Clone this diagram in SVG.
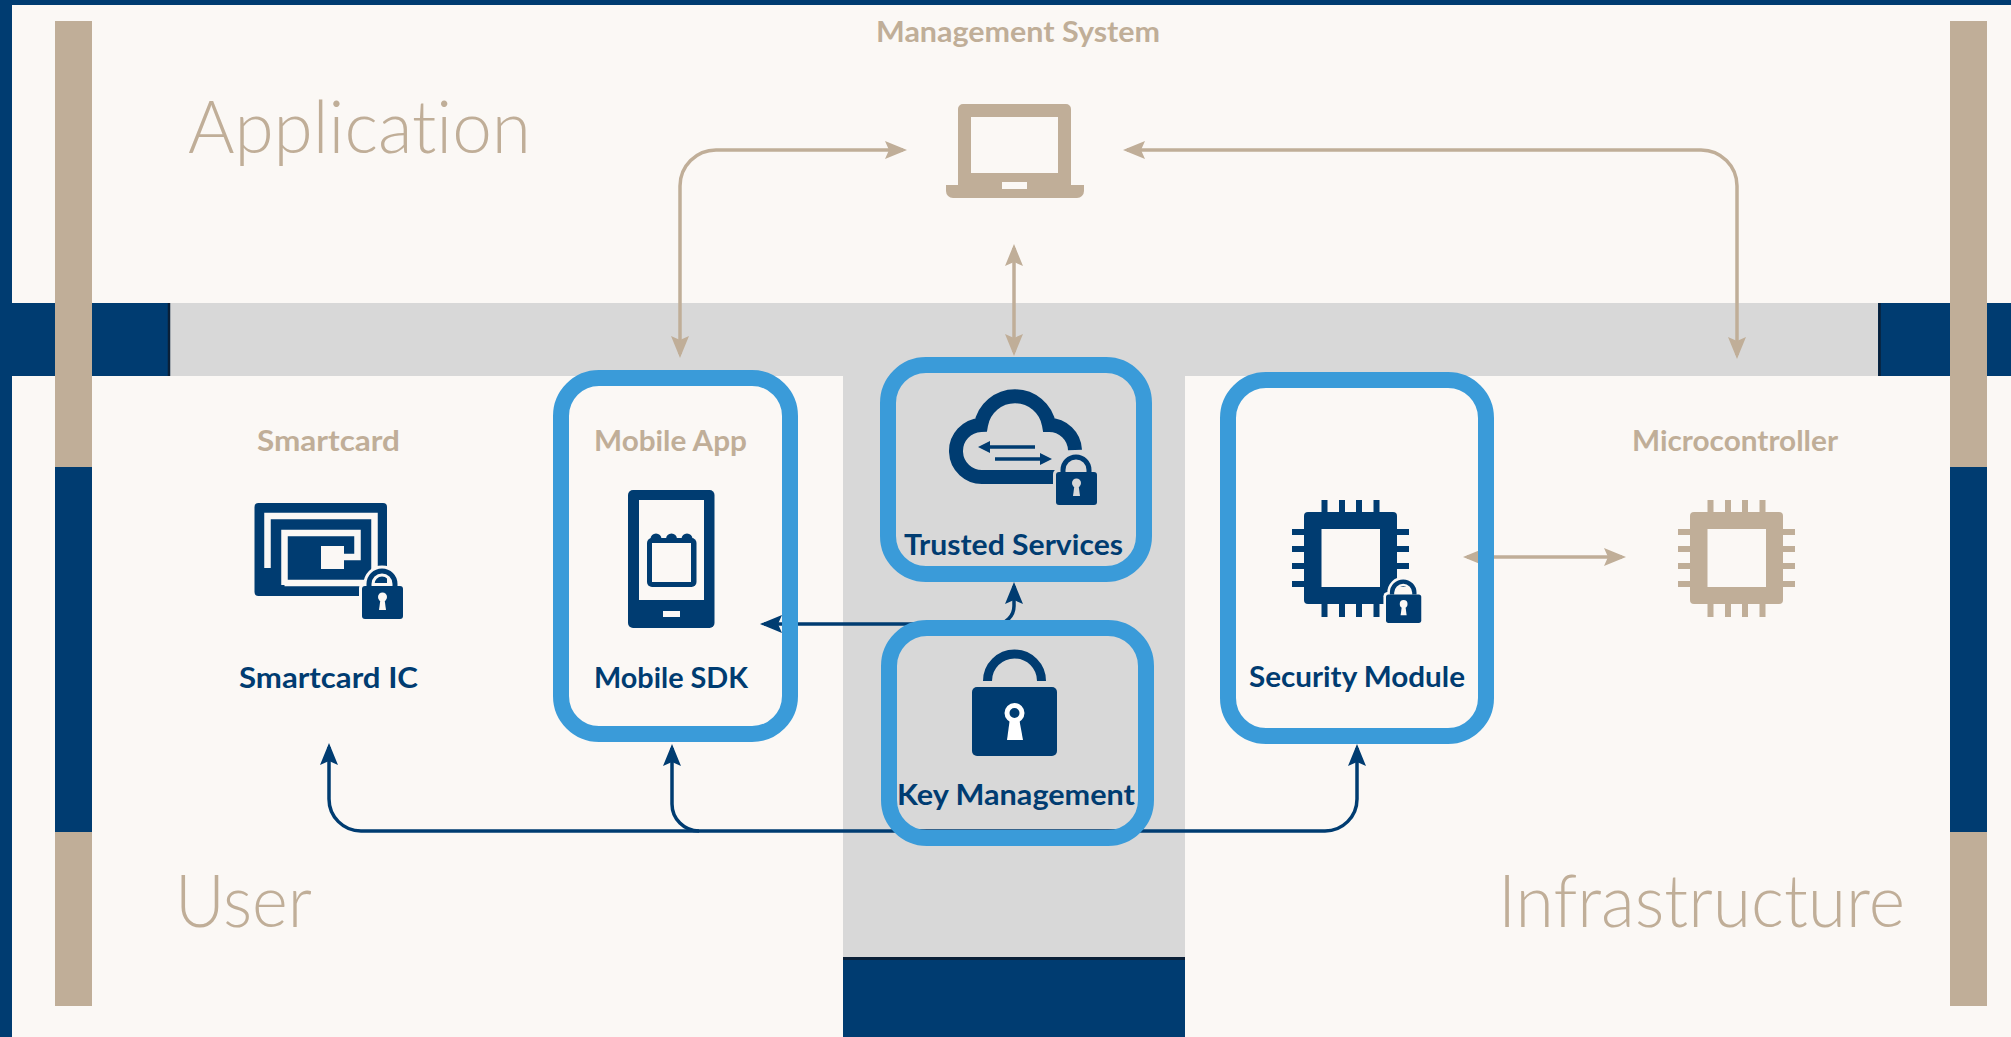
<svg xmlns="http://www.w3.org/2000/svg" xmlns:xlink="http://www.w3.org/1999/xlink" width="2011" height="1037" viewBox="0 0 2011 1037">
<style>
text{font-family:"Lato","Liberation Sans",sans-serif;font-variant-ligatures:none}
.lbl{font-size:28px;font-weight:700;fill:#003c71}
.tan{font-size:28px;font-weight:700;fill:#c0ae98}
.big{font-size:72px;font-weight:300;fill:#c0ae98}
.box{fill:none;stroke:#3a9bd9;stroke-width:16}
.ct{fill:none;stroke:#c0ae98;stroke-width:3.5;marker-end:url(#at)}
.cn{fill:none;stroke:#003c71;stroke-width:3.5}
.navy{fill:#003c71}.tanf{fill:#c0ae98}
</style>
<defs>
<marker id="at" markerUnits="userSpaceOnUse" viewBox="0 0 22 18" refX="18" refY="9" markerWidth="22" markerHeight="18" orient="auto-start-reverse"><path d="M22 9L0 0L4 9L0 18Z" fill="#c0ae98"/></marker>
<marker id="an" markerUnits="userSpaceOnUse" viewBox="0 0 22 18" refX="18" refY="9" markerWidth="22" markerHeight="18" orient="auto-start-reverse"><path d="M22 9L0 0L4 9L0 18Z" fill="#003c71"/></marker>
<g id="lock">
<rect x="-3" y="-3" width="47" height="39" rx="5" fill="currentColor"/>
<path d="M7 0V-2A13 13 0 0 1 33-2V0" fill="none" stroke="currentColor" stroke-width="11"/>
<path d="M7 0V-2A13 13 0 0 1 33-2V0" fill="none" stroke="#003c71" stroke-width="5"/>
<rect width="41" height="33" rx="3" fill="#003c71"/>
<circle cx="20.5" cy="11" r="4.5" fill="currentColor"/>
<path d="M18.5 13H22.5L24 24H17Z" fill="currentColor"/>
</g>
<g id="chip">
<path d="M17.5-12h6v12h-6zM35-12h6v12h-6zM52-12h6v12h-6zM69.500-12h6v12h-6zM17.500 92h6v13h-6zM35 92h6v13h-6zM52 92h6v13h-6zM69.500 92h6v13h-6zM-12 17h12v6h-12zM-12 34h12v6h-12zM-12 51h12v6h-12zM-12 69h12v6h-12zM93 17h12v6h-12zM93 34h12v6h-12zM93 51h12v6h-12zM93 69h12v6h-12z"/>
<rect width="93" height="92" rx="4"/>
<rect x="17.500" y="17" width="58.500" height="58" fill="#fbf8f5"/>
</g>
</defs>
<rect width="2011" height="1037" fill="#fbf8f5"/>
<g id="backdrop">
<rect width="2011" height="5" class="navy"/>
<rect width="12" height="1037" class="navy"/>
<rect x="12" y="303" width="158" height="73" class="navy"/>
<rect x="1878" y="303" width="133" height="73" class="navy"/>
<rect x="170" y="303" width="1708" height="73" fill="#d8d8d8"/>
<rect x="843" y="376" width="342" height="581" fill="#d8d8d8"/>
<rect x="843" y="957" width="342" height="80" class="navy"/>
<path d="M169 303V376M1879.500 303V376" stroke="#0a2038" stroke-width="2.500"/>
<path d="M843 958.500H1185" stroke="#0a2038" stroke-width="3"/>
<rect x="55" y="21" width="37" height="985" class="tanf"/>
<rect x="55" y="467" width="37" height="365" class="navy"/>
<rect x="1950" y="21" width="37" height="985" class="tanf"/>
<rect x="1950" y="467" width="37" height="365" class="navy"/>
</g>
<text class="big" x="188" y="153" textLength="343" lengthAdjust="spacingAndGlyphs">Application</text>
<text class="big" x="175" y="927" textLength="137" lengthAdjust="spacingAndGlyphs">User</text>
<text class="big" x="1498" y="927" textLength="407" lengthAdjust="spacingAndGlyphs">Infrastructure</text>
<g id="connectors">
<path class="ct" style="marker-start:url(#at)" d="M680 354V186A36 36 0 0 1 716 150H903"/>
<path class="ct" style="marker-start:url(#at)" d="M1127 150H1701A36 36 0 0 1 1737 186V355"/>
<path class="ct" style="marker-start:url(#at)" d="M1014 248V352"/>
<path class="ct" style="marker-start:url(#at)" d="M1467 557H1622"/>
<path class="cn" style="marker-end:url(#an)" d="M1000 831H361A32 32 0 0 1 329 799V747"/>
<path class="cn" style="marker-end:url(#an)" d="M699 831A27 27 0 0 1 672 804V748"/>
<path class="cn" style="marker-end:url(#an)" d="M1000 831H1325A32 32 0 0 0 1357 799V748"/>
<path class="cn" style="marker-end:url(#an)" d="M1000 624H764"/>
<path class="cn" style="marker-end:url(#an)" d="M960 624H996A18 18 0 0 0 1014 606V586"/>
</g>
<g id="management-system">
<text class="tan" x="876" y="42" textLength="284" lengthAdjust="spacingAndGlyphs">Management System</text>
<path class="tanf" fill-rule="evenodd" d="M963 104H1066A5 5 0 0 1 1071 109V185H1084V191A7 7 0 0 1 1077 198H953A7 7 0 0 1 946 191V185H958V109A5 5 0 0 1 963 104ZM971 117V173H1058V117ZM1002 182V189H1027V182Z"/>
</g>
<g id="smartcard">
<text class="tan" x="257" y="451" textLength="143" lengthAdjust="spacingAndGlyphs">Smartcard</text>
<rect x="254.500" y="503" width="132.500" height="93" rx="4" class="navy"/>
<path d="M267.500 568V516H374.500V572M284.500 585V533H357.500V557H344M284.500 583H370" fill="none" stroke="#fbf8f5" stroke-width="6.500"/>
<rect x="321" y="546" width="23" height="23" fill="#fbf8f5"/>
<use xlink:href="#lock" href="#lock" x="0" y="0" transform="translate(362 586)" color="#fbf8f5"/>
<text class="lbl" x="239" y="688" textLength="179" lengthAdjust="spacingAndGlyphs">Smartcard IC</text>
</g>
<g id="mobile-sdk">
<rect class="box" x="561" y="378" width="229" height="356" rx="38"/>
<text class="tan" x="594" y="451" textLength="153" lengthAdjust="spacingAndGlyphs">Mobile App</text>
<rect x="628" y="490" width="86.500" height="138" rx="5" class="navy"/>
<rect x="639" y="500" width="65" height="100" fill="#fbf8f5"/>
<rect x="663" y="611" width="17" height="6" fill="#fbf8f5"/>
<circle cx="656" cy="539" r="5.500" class="navy"/><circle cx="671.500" cy="539" r="5.500" class="navy"/><circle cx="687" cy="539" r="5.500" class="navy"/>
<rect x="647" y="538" width="49.500" height="49" rx="5" class="navy"/>
<rect x="652" y="543" width="39" height="39" fill="#fbf8f5"/>
<text class="lbl" x="594" y="688" textLength="154" lengthAdjust="spacingAndGlyphs">Mobile SDK</text>
</g>
<g id="trusted-services">
<rect class="box" x="888" y="365" width="256" height="209" rx="38"/>
<path d="M1056 477H983A26 26 0 0 1 981 425A34.500 34.500 0 0 1 1049 425A26 26 0 0 1 1075 450" fill="none" stroke="#003c71" stroke-width="14"/>
<path d="M1035 447H985" stroke="#003c71" stroke-width="3.500"/><path d="M978 447L990 441V453Z" class="navy"/>
<path d="M995 459H1045" stroke="#003c71" stroke-width="3.500"/><path d="M1052 459L1040 453V465Z" class="navy"/>
<use xlink:href="#lock" href="#lock" transform="translate(1056 472)" color="#d8d8d8"/>
<text class="lbl" x="904" y="555" textLength="219" lengthAdjust="spacingAndGlyphs">Trusted Services</text>
</g>
<g id="key-management">
<rect class="box" x="889" y="628" width="257" height="210" rx="38"/>
<path d="M987.500 681A27 27 0 0 1 1041.500 681" fill="none" stroke="#003c71" stroke-width="9"/>
<rect x="972" y="687" width="85" height="69" rx="5" class="navy"/>
<path d="M1010 718H1019L1023 740H1007Z" fill="#fff"/>
<circle cx="1014.500" cy="713" r="7.500" fill="#003c71" stroke="#fff" stroke-width="5"/>
<text class="lbl" x="897" y="805" textLength="238" lengthAdjust="spacingAndGlyphs">Key Management</text>
</g>
<g id="security-module">
<rect class="box" x="1228" y="380" width="258" height="356" rx="38"/>
<use xlink:href="#chip" href="#chip" transform="translate(1304 512)" fill="#003c71"/>
<use xlink:href="#lock" href="#lock" transform="translate(1386 594.500) scale(.86)" color="#fbf8f5"/>
<text class="lbl" x="1249" y="687" textLength="216" lengthAdjust="spacingAndGlyphs">Security Module</text>
</g>
<g id="microcontroller">
<text class="tan" x="1632" y="451" textLength="206" lengthAdjust="spacingAndGlyphs">Microcontroller</text>
<use xlink:href="#chip" href="#chip" transform="translate(1690 512)" fill="#c0ae98"/>
</g>
</svg>
